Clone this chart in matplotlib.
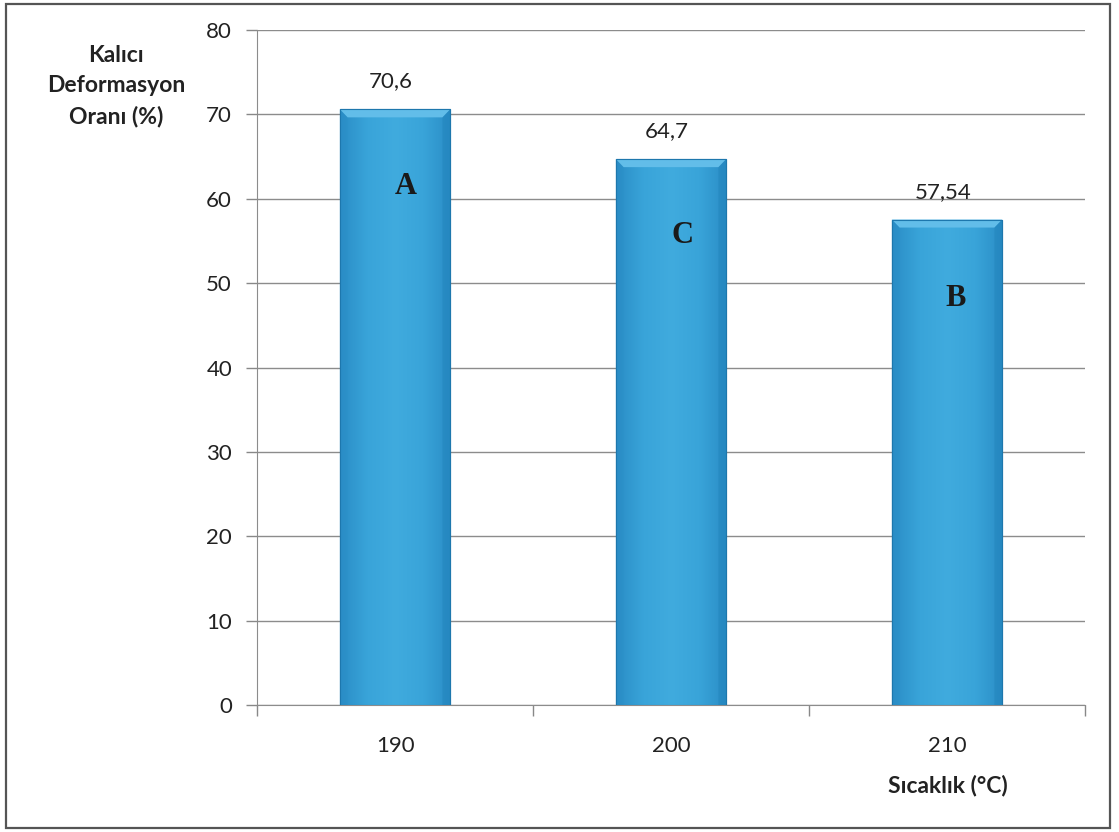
import numpy as np
import matplotlib.pyplot as plt
from matplotlib.patches import Rectangle, Polygon
from matplotlib.colors import LinearSegmentedColormap

plt.rcParams['font.family'] = ['Lato', 'DejaVu Sans']

# veriler
sicaklik = ["190", "200", "210"]
deformasyon = [70.6, 64.7, 57.54]
deger_etiket = ["70,6", "64,7", "57,54"]
grup_harf = ["A", "C", "B"]
harf_x = [0.04, 1.04, 2.03]
harf_y = [61.4, 55.6, 48.2]
y_ticks = [0, 10, 20, 30, 40, 50, 60, 70, 80]

fig = plt.figure(figsize=(11.19, 8.32), dpi=100)
ax = fig.add_axes([0.2297, 0.1526, 0.7399, 0.8113])

x = np.arange(len(sicaklik))
w = 0.40

# çubuklar: hafif yatay renk geçişi + üstte eğimli açık kenar
cmap = LinearSegmentedColormap.from_list("mavi", ["#2a8dc6", "#39a4d9", "#40abde", "#39a4d9", "#2a8dc6"])
grad = np.linspace(0, 1, 256).reshape(1, -1)
bars = ax.bar(x, deformasyon, width=w, color="#3aa3d8", edgecolor="#1d77ad", linewidth=0.8, zorder=3)
for b in bars:
    x0, y0 = b.get_x(), b.get_y()
    bw, bh = b.get_width(), b.get_height()
    im = ax.imshow(grad, cmap=cmap, aspect="auto", extent=[x0, x0 + bw, y0, y0 + bh], zorder=3.5)
    im.set_clip_path(b)
    dx, dy = 0.028, 0.95
    ax.add_patch(Polygon([[x0, y0 + bh], [x0 + bw, y0 + bh], [x0 + bw - dx, y0 + bh - dy], [x0 + dx, y0 + bh - dy]],
                         closed=True, facecolor="#62bde9", edgecolor="none", zorder=4))
    ax.add_patch(Polygon([[x0, y0 + bh], [x0 + dx, y0 + bh - dy], [x0 + dx, y0], [x0, y0]],
                         closed=True, facecolor="#2a8dc6", edgecolor="none", alpha=0.4, zorder=4))
    ax.add_patch(Polygon([[x0 + bw, y0 + bh], [x0 + bw - dx, y0 + bh - dy], [x0 + bw - dx, y0], [x0 + bw, y0]],
                         closed=True, facecolor="#1f7fb8", edgecolor="none", alpha=0.4, zorder=4))
    ax.add_patch(Rectangle((x0, y0), bw, bh, facecolor="none", edgecolor="#1d77ad", linewidth=0.8, zorder=4.5))

for xi, v, s in zip(x, deformasyon, deger_etiket):
    ax.annotate(s, (xi, v), xytext=(-3, 20), textcoords="offset points", ha="center", va="center",
                fontsize=16, color="#222222", zorder=5)

for hx, hy, h in zip(harf_x, harf_y, grup_harf):
    ax.text(hx, hy, h, ha="center", va="center", fontsize=22, fontweight="bold",
            family="Liberation Serif", color="#1a1a1a", zorder=5)

ax.set_xlim(-0.5, 2.5)
ax.set_ylim(0, 80)
ax.set_yticks(y_ticks)
ax.set_xticks(x)
ax.set_xticklabels(sicaklik)
ax.set_xticks([-0.5, 0.5, 1.5, 2.5], minor=True)
ax.tick_params(axis="x", which="major", length=0, pad=22, labelsize=16, labelcolor="#222222")
ax.tick_params(axis="x", which="minor", length=8, color="#888888", width=1)
ax.tick_params(axis="y", length=8, color="#888888", width=1, pad=10, labelsize=16, labelcolor="#222222")

ax.grid(axis="y", color="#8c8c8c", linewidth=1, zorder=0)
for s in ["top", "right"]:
    ax.spines[s].set_visible(False)
ax.spines["left"].set_color("#8c8c8c")
ax.spines["bottom"].set_color("#8c8c8c")

fig.text(116 / 1119, 1 - 86 / 832, "Kalıcı\nDeformasyon\nOranı (%)", ha="center", va="center",
         fontsize=16.5, fontweight="bold", color="#222222", linespacing=1.55)
fig.text(948 / 1119, 1 - 785 / 832, "Sıcaklık (°C)", ha="center", va="center",
         fontsize=16.5, fontweight="bold", color="#222222")

# dış çerçeve
fig.patches.append(Rectangle((6 / 1119, 4 / 832), 1104 / 1119, 824 / 832, transform=fig.transFigure,
                             facecolor="none", edgecolor="#555555", linewidth=1.6))

fig.savefig("out.png", dpi=100)
